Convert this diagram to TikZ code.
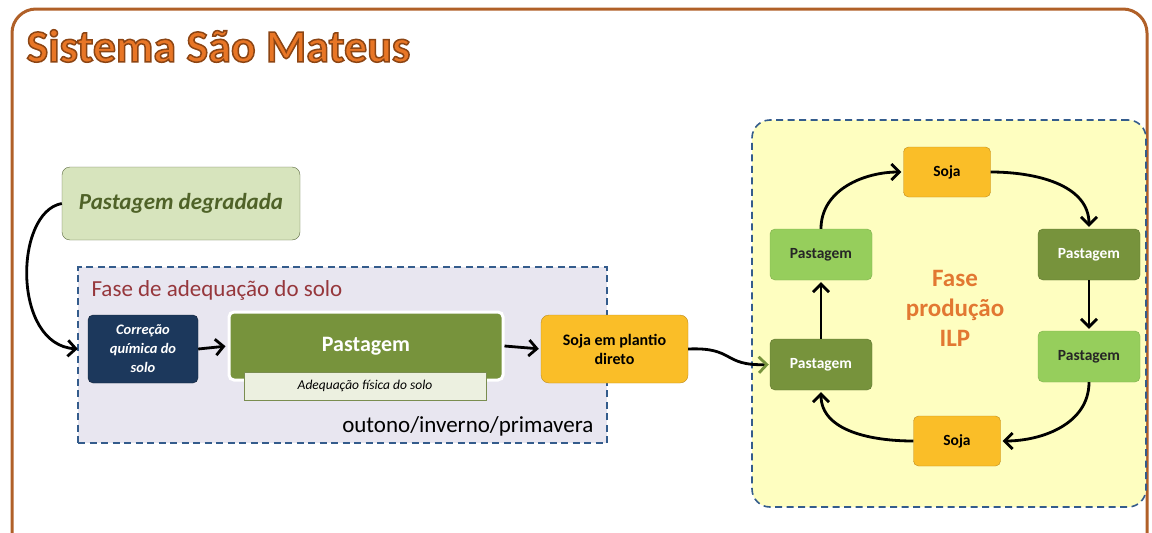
\documentclass[tikz,border=0pt]{standalone}
\usepackage{fontspec}
\setmainfont{Carlito}
\usetikzlibrary{arrows.meta,backgrounds}
\definecolor{frameorange}{RGB}{176,96,40}
\definecolor{titleorange}{RGB}{232,118,38}
\definecolor{paleolive}{RGB}{215,228,189}
\definecolor{deepolive}{RGB}{79,98,40}
\definecolor{lavender}{RGB}{232,230,240}
\definecolor{phaseblue}{RGB}{52,92,140}
\definecolor{phasered}{RGB}{150,55,60}
\definecolor{navy}{RGB}{28,56,92}
\definecolor{olive}{RGB}{119,147,60}
\definecolor{leafgreen}{RGB}{150,206,92}
\definecolor{sojafill}{RGB}{250,190,40}
\definecolor{sojaborder}{RGB}{190,140,30}
\definecolor{paleyellow}{RGB}{254,254,192}
\definecolor{ilporange}{RGB}{226,120,50}
\definecolor{fisicafill}{RGB}{236,240,224}
% outlined title text (fill + stroke)
\newcommand{\outlined}[1]{%
    \special{pdf:literal direct 2 Tr 1.5 w 0.55 0.27 0.08 RG}#1%
    \special{pdf:literal direct 0 Tr}}

\begin{document}
\begin{tikzpicture}[x=1pt, y=-1pt]
    \tikzset{
        box/.style={
            rounded corners=5pt, align=center, inner sep=2pt
        },
        sojabox/.style={
            box, draw=sojaborder, fill=sojafill,
            minimum width=87pt, minimum height=50pt,
            font=\fontsize{15.5}{18}\selectfont\bfseries
        },
        darkpast/.style={
            box, draw=olive!80!black, fill=olive, text=white,
            minimum width=102pt, minimum height=51pt,
            font=\fontsize{15.5}{18}\selectfont\bfseries
        },
        lightpast/.style={
            box, draw=leafgreen!85!black, fill=leafgreen, text=black!85,
            minimum width=102pt, minimum height=51pt,
            font=\fontsize{15.5}{18}\selectfont\bfseries
        },
        phase/.style={
            draw=phaseblue, line width=1.6pt,
            dash pattern=on 7pt off 4.5pt
        },
        flow/.style={
            line width=2.8pt, shorten >=2pt,
            -{Straight Barb[length=8pt,width=16pt]}
        },
    }
    \useasboundingbox (0,0) rectangle (1152,533);

    % ==== Outer frame and title ====
    \draw[frameorange, line width=3pt, rounded corners=24pt]
        (12,533) -- (12,9) -- (1147,9) -- (1147,533);
    \node[anchor=west, text=titleorange,
          font=\fontsize{46}{50}\selectfont\bfseries] (title) at (23,46)
        {\outlined{Sistema São Mateus}};

    % ==== Starting point ====
    \node[box, draw=deepolive!70!gray, fill=paleolive, text=deepolive,
          minimum width=238pt, minimum height=73pt, rounded corners=8pt,
          font=\fontsize{23}{26}\selectfont\bfseries\itshape] (degr) at (181,203.5)
        {Pastagem degradada};

    % ==== Fase de adequacao do solo ====
    \node[phase, fill=lavender, minimum width=529pt, minimum height=176pt,
          inner sep=0pt] (adeq) at (342.5,355) {};
    \node[anchor=west, text=phasered, font=\fontsize{23}{26}\selectfont]
        (adeqlbl) at (88,290) {Fase de adequação do solo};
    \node[box, draw=navy!60!black, fill=navy, text=white,
          minimum width=110pt, minimum height=68pt,
          font=\fontsize{14.5}{19}\selectfont\bfseries\itshape] (corr) at (143,349)
        {Correção\\química do\\solo};
    \node[box, draw=white, line width=3pt, fill=olive, text=white,
          minimum width=274pt, minimum height=68pt,
          font=\fontsize{22}{24}\selectfont\bfseries] (past) at (366,346)
        {\raisebox{4pt}{Pastagem}};
    \node[draw=olive!70!gray, fill=fisicafill, minimum width=242pt,
          minimum height=28pt, inner sep=0pt,
          font=\fontsize{13.5}{15}\selectfont\itshape] (fisica) at (365,386)
        {Adequação física do solo};
    \node[sojabox, minimum width=147pt, minimum height=68pt, rounded corners=8pt,
          font=\fontsize{16}{19}\selectfont\bfseries] (plantio) at (614.5,349)
        {Soja em plantio\\direto};
    \node[anchor=east, font=\fontsize{23}{26}\selectfont] (season) at (597,426)
        {outono/inverno/primavera};

    % ==== Fase producao ILP ====
    \node[phase, fill=paleyellow, minimum width=394pt, minimum height=387pt,
          rounded corners=18pt, inner sep=0pt] (ilp) at (949,313.5) {};
    \node[text=ilporange, align=center,
          font=\fontsize{25}{30}\selectfont\bfseries] (ilplbl) at (955,308)
        {Fase\\produção\\ILP};
    \node[sojabox] (s1) at (947,172) {Soja};
    \node[darkpast] (p2) at (1089,254.5) {Pastagem};
    \node[lightpast] (p3) at (1089,356.5) {Pastagem};
    \node[sojabox] (s4) at (957,441) {Soja};
    \node[darkpast] (p5) at (821,364.5) {Pastagem};
    \node[lightpast] (p6) at (821,254.5) {Pastagem};

    % ==== Connectors ====
    \draw[flow] (degr.west) .. controls (14,212) and (12,345) .. ([xshift=-8pt]corr.west);
    \draw[flow] (corr.east) -- (past.west);
    \draw[flow] (past.east) -- (plantio.west);
    \draw[line width=2.8pt, shorten >=1pt,
          -{Straight Barb[length=8pt,width=16pt,color=olive]}]
        (plantio.east) .. controls (735,347) and (722,366) .. (p5.west);
    \draw[flow] (p6.north) to[out=90, in=180] (s1.west);
    \draw[flow] (s1.east) to[out=0, in=90] (p2.north);
    \draw[flow] (p2.south) -- (p3.north);
    \draw[flow] (p3.south) to[out=-90, in=0] (s4.east);
    \draw[flow] (s4.west) to[out=180, in=-90] (p5.south);
    \draw[flow] (p5.north) -- (p6.south);
\end{tikzpicture}
\end{document}
